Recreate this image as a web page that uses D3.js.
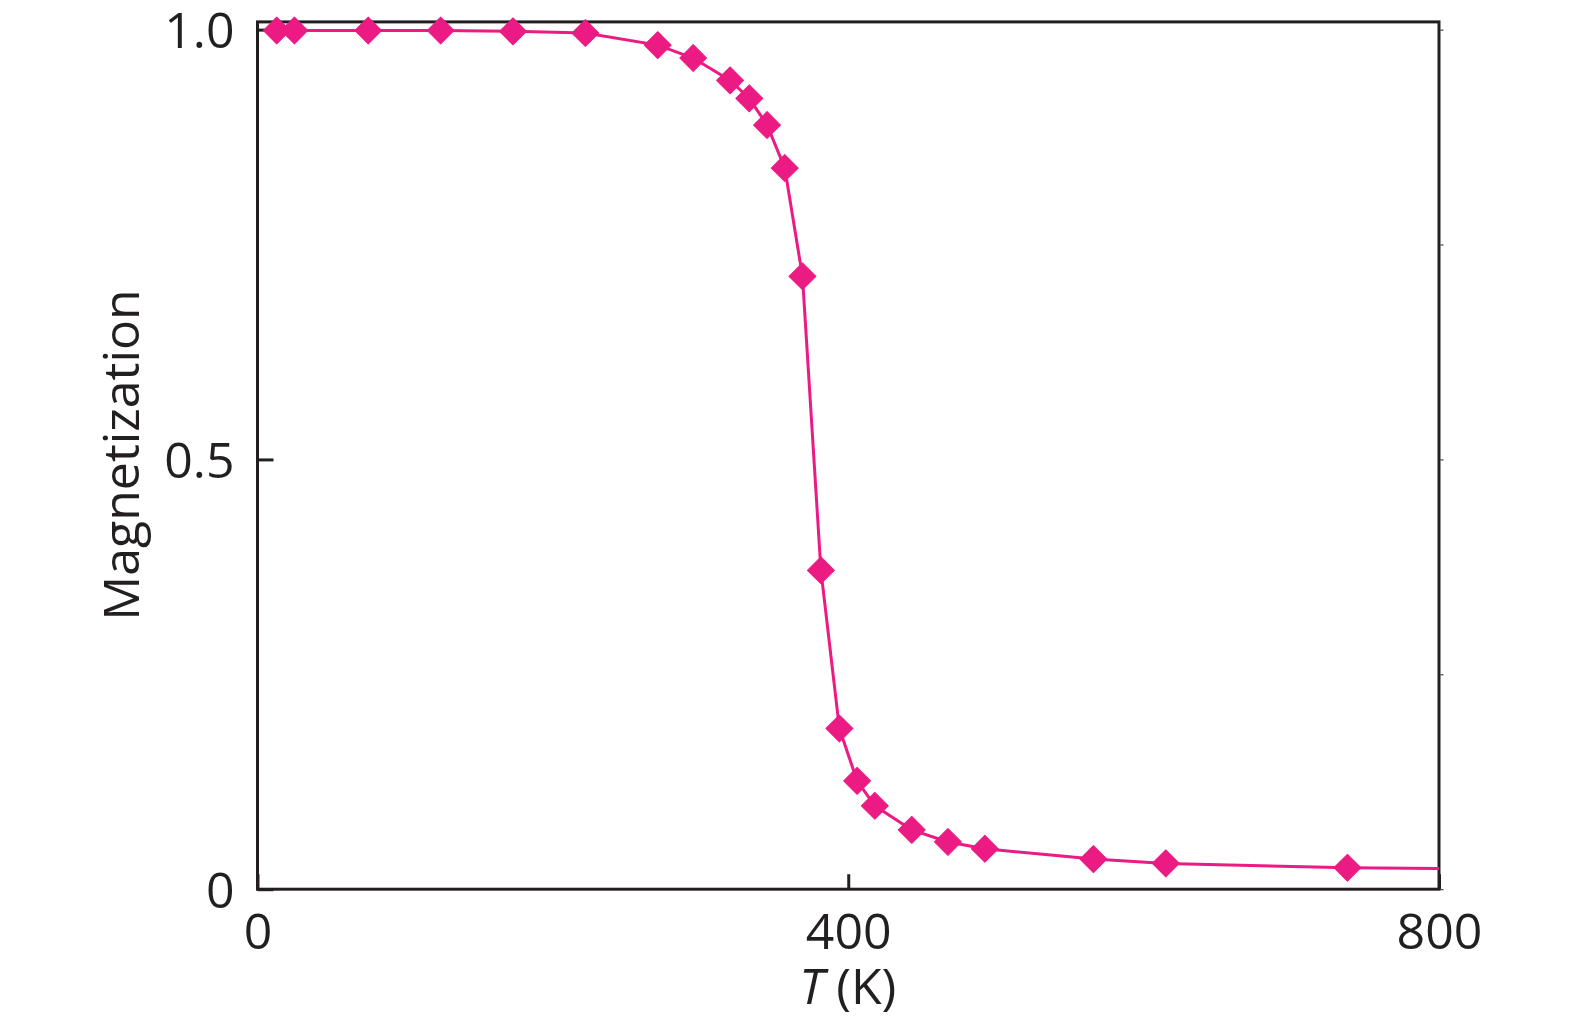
<!DOCTYPE html>
<html>
<head>
<meta charset="utf-8">
<script src="https://cdn.jsdelivr.net/npm/d3@7"></script>
<style>
  html, body { margin: 0; padding: 0; background: #fff; }
  svg { display: block; font-family: "Open Sans", "Noto Sans", sans-serif; }
</style>
</head>
<body>
<svg id="chart" width="1575" height="1022"></svg>
<script>
// ---- data ----
const temperature = [13, 25, 75, 124, 173, 222, 271, 295, 320, 333, 345, 357, 369, 381.5, 394, 406, 418, 443, 467.5, 492.5, 566, 615, 738];
const magnetization = [0.999, 0.999, 0.999, 0.999, 0.998, 0.996, 0.982, 0.967, 0.941, 0.920, 0.889, 0.839, 0.713, 0.371, 0.187, 0.126, 0.097, 0.069, 0.055, 0.047, 0.035, 0.030, 0.025];
const lineEndT = 800;          // line continues to the axis end (no marker)
const lineEndM = 0.024;
const xTicks = [0, 400, 800];
const xTickLabels = ["0", "400", "800"];
const yTicks = [0, 0.5, 1.0];
const yTickLabels = ["0", "0.5", "1.0"];
const yMinorTicks = [0, 0.25, 0.5, 0.75, 1.0];
const xLabelItalic = "T";
const xLabelRest = "(K)";
const yLabel = "Magnetization";

// ---- layout ----
const pink = "#ec1a83";
const ink = "#231f20";
const svg = d3.select("#chart");

const x = d3.scaleLinear().domain([0, 800]).range([257.5, 1439]);
const y = d3.scaleLinear().domain([0, 1.009]).range([889.2, 21.9]);

const g = svg.append("g");

// frame
g.append("rect")
  .attr("x", x(0)).attr("y", y(1.009))
  .attr("width", x(800) - x(0)).attr("height", y(0) - y(1.009))
  .attr("fill", "none").attr("stroke", ink).attr("stroke-width", 3);

// bottom axis (inward ticks)
const xAxis = d3.axisBottom(x).tickValues(xTicks)
  .tickFormat((d, i) => xTickLabels[i]).tickSize(-15).tickPadding(0);
const gx = g.append("g").attr("transform", `translate(0,${y(0)})`).call(xAxis);
gx.select(".domain").remove();
gx.selectAll(".tick line").attr("stroke", ink).attr("stroke-width", 3);
gx.selectAll(".tick text")
  .attr("y", 41.5).attr("dy", "0.36em")
  .attr("fill", ink).style("font-size", "50px").style("font-family", "'Open Sans', sans-serif");

// left axis (inward ticks)
const yAxis = d3.axisLeft(y).tickValues(yTicks)
  .tickFormat((d, i) => yTickLabels[i]).tickSize(-16).tickPadding(0);
const gy = g.append("g").attr("transform", `translate(${x(0)},0)`).call(yAxis);
gy.select(".domain").remove();
gy.selectAll(".tick line").attr("stroke", ink).attr("stroke-width", 3);
gy.selectAll(".tick text")
  .attr("x", -23).attr("dy", "0.36em")
  .attr("fill", ink).style("font-size", "50px").style("font-family", "'Open Sans', sans-serif");

// tiny right-side minor ticks
const yRight = d3.axisRight(y).tickValues(yMinorTicks).tickSize(3).tickFormat("");
const gr = g.append("g").attr("transform", `translate(${x(800) + 1.5},0)`).call(yRight);
gr.select(".domain").remove();
gr.selectAll(".tick line").attr("stroke", ink).attr("stroke-width", 1);

// axis titles
const xMid = (x(0) + x(800)) / 2;
g.append("text")
  .attr("x", xMid - 24).attr("y", 1004)
  .attr("text-anchor", "end").attr("fill", ink)
  .style("font-size", "50px").style("font-style", "italic")
  .text(xLabelItalic);
g.append("text")
  .attr("x", xMid - 12).attr("y", 1004)
  .attr("text-anchor", "start").attr("fill", ink)
  .style("font-size", "50px")
  .text(xLabelRest);

g.append("text")
  .attr("transform", `translate(139,${455}) rotate(-90)`)
  .attr("text-anchor", "middle").attr("fill", ink)
  .style("font-size", "50px")
  .text(yLabel);

// data line
const pts = temperature.map((t, i) => [t, magnetization[i]]);
const linePts = pts.concat([[lineEndT, lineEndM]]);
const line = d3.line().x(d => x(d[0])).y(d => y(d[1]));
g.append("path")
  .datum(linePts)
  .attr("d", line)
  .attr("fill", "none").attr("stroke", pink).attr("stroke-width", 3);

// diamond markers
const diamond = d3.symbol().type(d3.symbolSquare).size(19 * 19);
g.selectAll(".marker")
  .data(pts)
  .enter().append("path")
  .attr("class", "marker")
  .attr("d", diamond)
  .attr("transform", d => `translate(${x(d[0])},${y(d[1])}) rotate(45)`)
  .attr("fill", pink)
  .attr("stroke", pink).attr("stroke-width", 1).attr("stroke-linejoin", "round");
</script>
</body>
</html>
